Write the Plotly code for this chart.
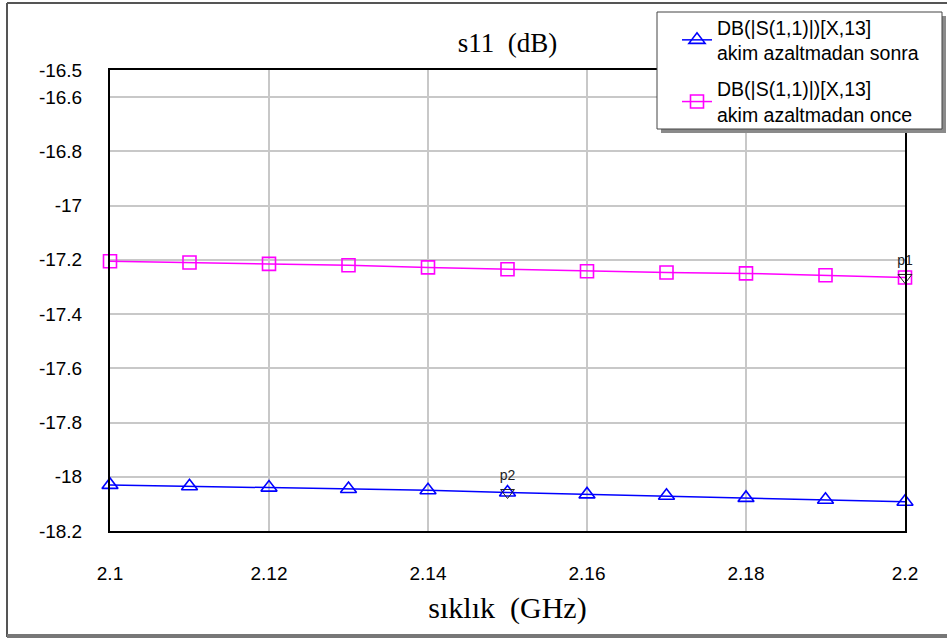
import plotly.graph_objects as go

freq = [2.10, 2.11, 2.12, 2.13, 2.14, 2.15, 2.16, 2.17, 2.18, 2.19, 2.20]
s11_sonra = [-18.030, -18.035, -18.040, -18.045, -18.050, -18.058, -18.065, -18.070, -18.078, -18.085, -18.092]
s11_once = [-17.205, -17.210, -17.215, -17.220, -17.228, -17.235, -17.242, -17.247, -17.250, -17.257, -17.265]
name_sonra = "DB(|S(1,1)|)[X,13]<br>akim azaltmadan sonra"
name_once = "DB(|S(1,1)|)[X,13]<br>akim azaltmadan once"
marker_x = [2.20, 2.15]
marker_y = [-17.265, -18.058]
marker_labels = ["p1", "p2"]
y_ticks = [-16.5, -16.6, -16.8, -17, -17.2, -17.4, -17.6, -17.8, -18, -18.2]
x_ticks = [2.1, 2.12, 2.14, 2.16, 2.18, 2.2]

# plot area in pixels (for paper coordinate conversions)
L, R, T, B = 110, 905, 70, 531
W, H = R - L, B - T
def px(x):
    return (x - L) / W
def py(y):
    return (B - y) / H

fig = go.Figure()
fig.add_trace(go.Scatter(
    x=freq, y=s11_sonra, name=name_sonra, mode="lines+markers", legendgroup="a",
    line=dict(color="#0000ff", width=1.5),
    marker=dict(symbol="triangle-up-open", size=14, color="#0000ff", line=dict(width=1.6)),
    cliponaxis=False))
fig.add_trace(go.Scatter(
    x=freq, y=s11_once, name=name_once, mode="lines+markers", legendgroup="b",
    line=dict(color="#ff00ff", width=1.5),
    marker=dict(symbol="square-open", size=13, color="#ff00ff", line=dict(width=1.6)),
    cliponaxis=False))
fig.add_trace(go.Scatter(
    x=marker_x, y=marker_y, mode="markers+text", text=marker_labels,
    textposition="top center", textfont=dict(family="Liberation Sans", size=14, color="#222"),
    marker=dict(symbol="triangle-down-open", size=12, color="#222", line=dict(width=1)),
    showlegend=False, cliponaxis=False))

shapes = [
    # legend shadow and box
    dict(type="rect", xref="paper", yref="paper", x0=px(661), x1=px(946), y0=py(133), y1=py(16),
         line=dict(width=0), fillcolor="#8a8a8a", layer="above"),
    dict(type="rect", xref="paper", yref="paper", x0=px(657), x1=px(942), y0=py(129), y1=py(12),
         line=dict(width=1, color="#444"), fillcolor="white", layer="above"),
    # outer frame
    dict(type="line", xref="paper", yref="paper", x0=px(7), x1=px(7), y0=py(637), y1=py(3),
         line=dict(color="#555", width=2)),
    dict(type="line", xref="paper", yref="paper", x0=px(7), x1=px(947), y0=py(3), y1=py(3),
         line=dict(color="#555", width=2)),
    dict(type="line", xref="paper", yref="paper", x0=px(7), x1=px(947), y0=py(636), y1=py(636),
         line=dict(color="#777", width=4)),
]

fig.update_layout(
    width=947, height=642,
    paper_bgcolor="white", plot_bgcolor="white",
    margin=dict(l=L, r=947 - R, t=T, b=642 - B, autoexpand=False),
    title=dict(text="s11  (dB)", x=0.5, xref="paper", xanchor="center",
               y=1 - 43 / 642, yanchor="middle",
               font=dict(family="Liberation Serif", size=27, color="black")),
    font=dict(family="Liberation Sans", size=19, color="black"),
    legend=dict(x=px(677), y=py(8), xanchor="left", yanchor="top",
                bgcolor="rgba(0,0,0,0)", borderwidth=0,
                font=dict(family="Liberation Sans", size=19.5, color="black"),
                tracegroupgap=8, itemwidth=30),
    shapes=shapes,
)
fig.update_xaxes(
    range=[2.1, 2.2], tickvals=x_ticks, ticktext=[str(v) for v in x_ticks],
    showgrid=True, gridcolor="#c8c8c8", gridwidth=1.5, zeroline=False,
    showline=True, linecolor="black", linewidth=2, mirror=True, ticks="",
    tickfont=dict(family="Liberation Sans", size=19), ticklabelstandoff=24,
    title=dict(text="sıklık  (GHz)", font=dict(family="Liberation Serif", size=30), standoff=14))
fig.update_yaxes(
    range=[-18.2, -16.5], tickvals=y_ticks, ticktext=[f"{v:g}" for v in y_ticks],
    showgrid=True, gridcolor="#c8c8c8", gridwidth=1.5, zeroline=False,
    showline=True, linecolor="black", linewidth=2, mirror=True, ticks="",
    tickfont=dict(family="Liberation Sans", size=19), ticklabelstandoff=22)

fig.write_html("out.html", config={"displayModeBar": False},
               post_script="document.body.style.margin='0';")
